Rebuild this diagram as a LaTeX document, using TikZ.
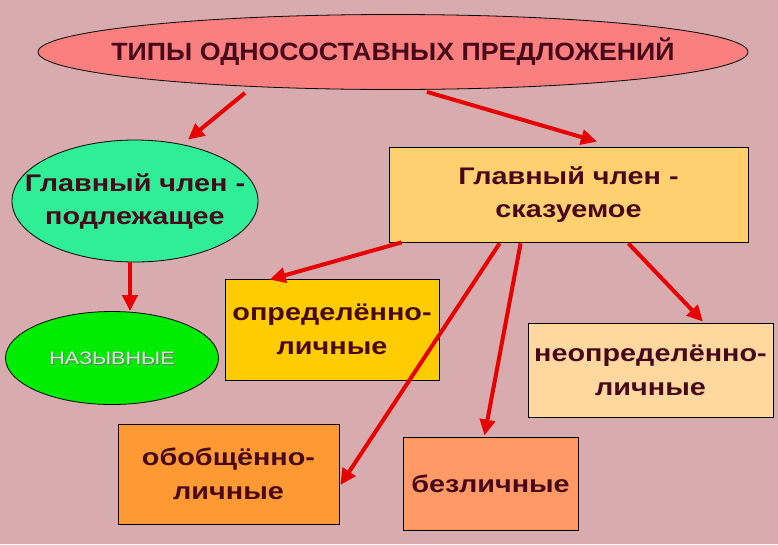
\documentclass[tikz,border=0pt]{standalone}
\usepackage{fontspec}
\setmainfont{Liberation Sans}
\newfontfamily\widefont[FakeStretch=1.2]{Liberation Sans}
\newfontfamily\titlefont[FakeStretch=1.07]{Liberation Sans}
\usetikzlibrary{shapes.geometric, arrows.meta, calc, positioning}
\definecolor{bgpink}{RGB}{216,172,175}
\definecolor{titlepink}{RGB}{250,128,128}
\definecolor{podlgreen}{RGB}{48,238,150}
\definecolor{nazgreen}{RGB}{0,236,0}
\definecolor{skazorange}{RGB}{255,208,112}
\definecolor{opredgold}{RGB}{255,204,0}
\definecolor{neopredpeach}{RGB}{255,216,160}
\definecolor{obobshorange}{RGB}{255,153,51}
\definecolor{bezlsalmon}{RGB}{255,153,102}
\definecolor{darktext}{RGB}{72,8,28}
\definecolor{arrowred}{RGB}{230,0,0}

\begin{document}
\begin{tikzpicture}[x=1pt, y=-1pt,
    oval/.style={draw, ellipse, inner sep=0pt, line width=0.8pt},
    box/.style={draw, rectangle, inner sep=0pt, line width=0.8pt, align=center, text=darktext, font=\widefont\bfseries\fontsize{24}{34}\selectfont},
    arr/.style={draw=arrowred, line width=4pt, -{Triangle[length=16pt, width=15pt]}}]
        \fill[bgpink] (0, 0) rectangle (778, 544);

        \node [oval, fill=titlepink, minimum width=710pt, minimum height=75pt] (TITLE) at (393, 52) {};
        \node [anchor=center, text=darktext, font=\titlefont\bfseries\fontsize{25}{30}\selectfont] at (TITLE) {ТИПЫ ОДНОСОСТАВНЫХ ПРЕДЛОЖЕНИЙ};
        \node [oval, fill=podlgreen, minimum width=246pt, minimum height=122pt] (PODL) at (135, 201) {};
        \node [anchor=center, align=center, text=darktext, font=\widefont\bfseries\fontsize{24}{33}\selectfont] at (PODL) {Главный член -\\подлежащее};
        \node [oval, fill=nazgreen, minimum width=213pt, minimum height=93pt] (NAZ) at (112, 358) {};
        \node [anchor=center, text=black!55, font=\widefont\fontsize{18}{22}\selectfont] at ($(NAZ)+(1, 1)$) {НАЗЫВНЫЕ};
        \node [anchor=center, text=green!15!gray!25, font=\widefont\fontsize{18}{22}\selectfont] at (NAZ) {НАЗЫВНЫЕ};

        \node [box, fill=skazorange, minimum width=359pt, minimum height=95pt, font=\widefont\bfseries\fontsize{24}{33}\selectfont] (SKAZ) at (568.5, 194.5) {Главный член -\\сказуемое};
        \node [box, fill=opredgold, minimum width=214pt, minimum height=101pt] (OPRED) at (332, 329.5) {определённо-\\личные};
        \node [box, fill=neopredpeach, minimum width=245pt, minimum height=94pt] (NEOPRED) at (650.5, 370) {неопределённо-\\личные};
        \node [box, fill=obobshorange, minimum width=221pt, minimum height=100pt] (OBOBSH) at (228.5, 474) {обобщённо-\\личные};
        \node [box, fill=bezlsalmon, minimum width=175pt, minimum height=93pt] (BEZL) at (490.5, 483.5) {безличные};

        \draw [arr] ($(TITLE.south)+(-148, 3)$) -- ($(PODL.north)+(53, 0)$);
        \draw [arr] ($(TITLE.south)+(34, 2)$) -- ($(SKAZ.north)+(28.5, -5)$);
        \draw [arr] ($(PODL.south)+(-5, 0)$) -- ($(NAZ.north)+(18, 0)$);
        \draw [arr] ($(SKAZ.south west)+(13, 0)$) -- ($(OPRED.north west)+(45, 1)$);
        \draw [arr] ($(SKAZ.south west)+(111, 1)$) -- ($(OBOBSH.east)+(1, 11)$);
        \draw [arr] ($(SKAZ.south west)+(132, 1)$) -- ($(BEZL.north)+(-6, -1)$);
        \draw [arr] ($(SKAZ.south east)+(-120, 1)$) -- ($(NEOPRED.north)+(52.5, -1)$);
    \end{tikzpicture}
\end{document}
